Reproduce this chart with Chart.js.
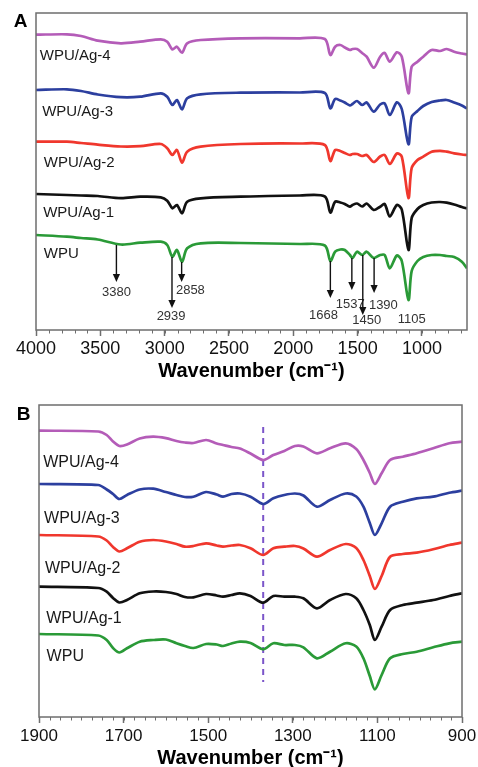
<!DOCTYPE html>
<html>
<head>
<meta charset="utf-8">
<script src="https://cdn.jsdelivr.net/npm/chart.js@4.4.1/dist/chart.umd.min.js"></script>
<style>
  html, body { margin: 0; padding: 0; background: #fff; }
  #wrap { position: relative; width: 478px; height: 767px; }
  canvas { position: absolute; left: 0; }
  #chartA { top: 0; }
  #chartB { top: 385px; }
</style>
</head>
<body>
<div id="wrap">
  <canvas id="chartA" width="478" height="385"></canvas>
  <canvas id="chartB" width="478" height="382"></canvas>
</div>
<script>
// ==========================================
// DATA (transmittance, arbitrary units, curves offset)
// ==========================================
const sampleNames = ['WPU/Ag-4', 'WPU/Ag-3', 'WPU/Ag-2', 'WPU/Ag-1', 'WPU'];
const sampleColors = ['#b45cb8', '#2c3f9f', '#f0372d', '#111111', '#2a9a37'];

// panel A : 4000 - 650 cm-1
const wnA = [4000, 3760, 3650, 3520, 3340, 3190, 3030, 2980, 2940, 2905,
             2865, 2825, 2720, 2410, 1950, 1755, 1712, 1675, 1635, 1600,
             1560, 1540, 1505, 1465, 1430, 1375, 1325, 1290, 1250, 1195,
             1157, 1105, 1080, 1035, 990, 925, 860, 808, 750, 690, 650];
const ag4A = [295.3, 295.7, 294, 289.3, 286.7, 288.3, 290.7, 288.3, 280.5, 283.3,
              277.3, 286.7, 290, 291.7, 291.7, 291, 275, 283.3, 285, 282.5,
              280, 281, 281, 277, 273.3, 262.3, 273.3, 277, 268.3, 277.7,
              273.3, 236.7, 263.3, 268.3, 273.3, 280, 279, 281, 278.3, 276.5, 275.5];
const ag3A = [240, 240.7, 239, 235.5, 232.8, 233.3, 236.7, 233.3, 225, 230,
              220.7, 231.7, 235.7, 237.3, 237.5, 237, 221.7, 231, 229.5, 227.5,
              224.5, 226, 229, 225, 227.5, 218.3, 225.5, 226.7, 215, 227.7,
              221, 185.7, 213, 219, 224, 228, 229.5, 230, 227.5, 224.5, 221.5];
const ag2A = [188.3, 188.3, 187, 185.3, 183.5, 183.8, 186, 181.7, 175, 180,
              167.3, 178.3, 183.3, 186, 186.5, 185, 169, 180, 179, 177,
              175, 176, 176, 174, 175, 168, 173.5, 175, 166, 176.5,
              173.3, 132, 162, 170, 173.3, 178.3, 179.2, 178.3, 176.7, 175.5, 175];
const ag1A = [136, 135, 134.5, 134, 131.8, 133.3, 132.7, 129.3, 121.7, 125,
              116.7, 128.3, 131.7, 133.3, 134.5, 133.5, 117.5, 128.3, 127.5, 126,
              123.3, 125, 126.5, 123.5, 126.5, 120, 123.3, 126, 113.5, 125,
              120.5, 80, 112, 121, 125, 127.5, 128, 127.3, 125.5, 123, 121.5];
const wpuA = [95, 93.3, 92, 90.5, 85.5, 87.3, 88.3, 85, 73.3, 80,
              68.3, 81.7, 86.7, 87, 86, 84.5, 69, 78.3, 80.5, 80,
              75, 72, 78.3, 75, 78.3, 72, 75, 75, 61.7, 74.5,
              69, 30, 59, 69, 73, 75, 75, 74, 73, 68.3, 61.7];
const ticksA = [4000, 3500, 3000, 2500, 2000, 1500, 1000];

// panel B : 1900 - 900 cm-1
const wnB = [1900, 1760, 1740, 1725, 1710, 1692, 1662, 1630, 1600, 1575,
             1555, 1535, 1505, 1480, 1465, 1445, 1425, 1400, 1370, 1346,
             1320, 1295, 1275, 1243, 1212, 1175, 1150, 1133, 1118, 1106,
             1090, 1070, 1040, 1007, 968, 930, 900];
const ag4B = [286.3, 285.5, 282, 275.5, 271, 272.5, 278.5, 280.3, 278.8, 276,
              274.5, 274, 277, 273.5, 272, 270, 268.5, 263.5, 257, 262,
              266, 271, 270.5, 263.7, 268.7, 273.7, 268, 257, 244, 233,
              243.7, 257, 260.3, 263.7, 268.7, 273.7, 275.3];
const ag3B = [233, 232, 227.5, 223, 218, 222, 227.5, 228.3, 225, 222,
              220, 220.3, 225, 222.5, 220.3, 223, 223.5, 220.3, 213, 218.7,
              222, 223.5, 221.5, 210.3, 217, 223.5, 220.5, 210.3, 194, 182,
              193.7, 210.3, 215.3, 218.7, 220.3, 224.3, 226.3];
const ag2B = [182, 180.5, 176.5, 170, 165.5, 168.7, 175.3, 177, 175.5, 173,
              170.3, 171, 173.7, 171.5, 170.3, 171.5, 172, 168.7, 162, 168.7,
              170.3, 171, 168.5, 160.3, 167, 173, 169, 157, 141, 128,
              141, 160.3, 163, 164.3, 167.7, 172, 174.3];
const ag1B = [130.3, 129, 125.3, 119, 114.5, 117, 123.7, 125.5, 125, 123,
              120, 119.7, 123, 121.5, 120.3, 122, 123.7, 121, 114.3, 121,
              120.3, 120.3, 118.7, 108.7, 117, 123, 118.7, 107, 92, 77,
              90.3, 107, 112, 114.3, 117, 121, 123.7];
const wpuB = [83, 81.5, 77, 69, 64.5, 68.7, 75.3, 77, 77.5, 73.7,
              71, 69, 73, 72.5, 71, 73.5, 75.3, 74, 67.7, 73.7,
              72, 72, 69.7, 58.7, 65.3, 73.7, 70.5, 58.7, 41, 27.7,
              42, 58.7, 63, 65.3, 69.7, 73.7, 75.3];
const ticksB = [1900, 1700, 1500, 1300, 1100, 900];

// dashed marker in panel B
const markerWn = 1370;

// ==========================================
// ANNOTATIONS (where the texts / arrows sit, data units)
// ==========================================
const nameSpotsA = [[3970, 273.7], [3952, 217.8], [3940, 167], [3944, 117.3], [3940, 75.8]];
const nameSpotsB = [[1890, 254.5], [1888, 198.7], [1886, 148.7], [1883, 98.7], [1882, 60]];

// text, arrow wavenumber, arrow start, arrow tip, label x, label y
const peakMarks = [
    ['3380', 3375, 85, 48, 3375, 38],
    ['2939', 2943, 73, 22, 2950, 13.3],
    ['2858', 2868, 68, 48, 2800, 40],
    ['1668', 1712, 69, 32, 1766, 15],
    ['1537', 1545, 72, 40, 1558, 26],
    ['1450', 1460, 75, 15, 1429, 9.3],
    ['1390', 1372, 72, 37, 1300, 25],
    ['1105', null, 0, 0, 1079, 10.7]
];

// ==========================================
// HELPERS
// ==========================================
const FONT = 'Arial, "Liberation Sans", Helvetica, sans-serif';

function makeSets(wn, series) {
    return series.map((vals, i) => ({
        label: sampleNames[i],
        data: wn.map((w, k) => ({ x: w, y: vals[k] })),
        borderColor: sampleColors[i],
        borderWidth: 2.7,
        pointRadius: 0,
        tension: 0.3,
        fill: false
    }));
}

// frame, minor ticks, curve names, arrows, panel letter
const decorPlugin = {
    id: 'decor',
    afterDatasetsDraw(chart, args, opts) {
        const { ctx, chartArea: a } = chart;
        const xs = chart.scales.x, ys = chart.scales.y;
        ctx.save();

        ctx.strokeStyle = '#6e6e6e';
        ctx.lineWidth = 1.5;
        ctx.strokeRect(a.left, a.top, a.right - a.left, a.bottom - a.top);

        // minor ticks
        ctx.beginPath();
        ctx.lineWidth = 1;
        const step = opts.minorStep;
        for (let w = Math.ceil(xs.min / step) * step; w <= xs.max; w += step) {
            const px = Math.round(xs.getPixelForValue(w)) + 0.5;
            ctx.moveTo(px, a.bottom);
            ctx.lineTo(px, a.bottom + 3.5);
        }
        ctx.stroke();

        // sample names
        ctx.fillStyle = '#1a1a1a';
        ctx.font = opts.nameSize + 'px ' + FONT;
        ctx.textAlign = 'left';
        ctx.textBaseline = 'middle';
        opts.names.forEach((p, i) => {
            ctx.fillText(sampleNames[i], xs.getPixelForValue(p[0]), ys.getPixelForValue(p[1]));
        });

        // peak arrows + numbers
        (opts.peaks || []).forEach(m => {
            const [txt, wn, from, tip, lx, ly] = m;
            if (wn !== null) {
                const px = xs.getPixelForValue(wn);
                const y0 = ys.getPixelForValue(from);
                const y1 = ys.getPixelForValue(tip);
                ctx.strokeStyle = '#111';
                ctx.lineWidth = 1.4;
                ctx.beginPath();
                ctx.moveTo(px, y0);
                ctx.lineTo(px, y1 - 6);
                ctx.stroke();
                ctx.fillStyle = '#111';
                ctx.beginPath();
                ctx.moveTo(px - 3.6, y1 - 8);
                ctx.lineTo(px + 3.6, y1 - 8);
                ctx.lineTo(px, y1);
                ctx.closePath();
                ctx.fill();
            }
            ctx.fillStyle = '#333';
            ctx.font = '13px ' + FONT;
            ctx.textAlign = 'center';
            ctx.fillText(txt, xs.getPixelForValue(lx), ys.getPixelForValue(ly));
        });

        // panel letter
        ctx.fillStyle = '#000';
        ctx.font = 'bold 19px ' + FONT;
        ctx.textAlign = 'center';
        ctx.textBaseline = 'middle';
        ctx.fillText(opts.letter, opts.letterAt[0], opts.letterAt[1]);
        ctx.restore();
    }
};

function axisX(min, max, ticks, fontSize, tickPad, axisHeight, titlePad, titleLine) {
    return {
        type: 'linear',
        reverse: true,
        min: min,
        max: max,
        afterBuildTicks: s => { s.ticks = ticks.map(v => ({ value: v })); },
        afterFit: s => { s.height = axisHeight; s.paddingLeft = 0; s.paddingRight = 0; },
        border: { display: false },
        grid: { drawOnChartArea: false, drawTicks: true, tickLength: 6, tickColor: '#6e6e6e', tickWidth: 1.5 },
        ticks: {
            color: '#111',
            padding: tickPad,
            maxRotation: 0,
            callback: v => String(v),
            font: { family: FONT, size: fontSize }
        },
        title: {
            display: true,
            text: 'Wavenumber (cm⁻¹)',
            color: '#000',
            padding: { top: 0, bottom: titlePad },
            font: { family: FONT, size: 20, weight: 'bold', lineHeight: titleLine }
        }
    };
}

// ==========================================
// PANEL A
// ==========================================
new Chart(document.getElementById('chartA'), {
    type: 'line',
    data: { datasets: makeSets(wnA, [ag4A, ag3A, ag2A, ag1A, wpuA]) },
    options: {
        responsive: false,
        animation: false,
        layout: { padding: { left: 36, right: 11, top: 13, bottom: 0 } },
        plugins: {
            legend: { display: false },
            tooltip: { enabled: false },
            decor: { minorStep: 100, nameSize: 15, names: nameSpotsA, peaks: peakMarks, letter: 'A', letterAt: [20.5, 21.5] }
        },
        scales: {
            x: axisX(650, 4000, ticksA, 18, 2.2, 55, 1.3, 1.2),
            y: { display: false, min: 0, max: 317 }
        }
    },
    plugins: [decorPlugin]
});

// ==========================================
// PANEL B
// ==========================================
const setsB = makeSets(wnB, [ag4B, ag3B, ag2B, ag1B, wpuB]);
setsB.push({
    label: 'marker',
    data: [{ x: markerWn, y: 290 }, { x: markerWn, y: 35 }],
    borderColor: '#7b55c9',
    borderWidth: 2,
    borderDash: [6, 5],
    pointRadius: 0
});

new Chart(document.getElementById('chartB'), {
    type: 'line',
    data: { datasets: setsB },
    options: {
        responsive: false,
        animation: false,
        layout: { padding: { left: 39, right: 16, top: 20, bottom: 0 } },
        plugins: {
            legend: { display: false },
            tooltip: { enabled: false },
            decor: { minorStep: 25, nameSize: 16, names: nameSpotsB, peaks: [], letter: 'B', letterAt: [23.5, 30] }
        },
        scales: {
            x: axisX(900, 1900, ticksB, 17, 3.5, 50, 0, 0.9),
            y: { display: false, min: 0, max: 312 }
        }
    },
    plugins: [decorPlugin]
});
</script>
</body>
</html>
